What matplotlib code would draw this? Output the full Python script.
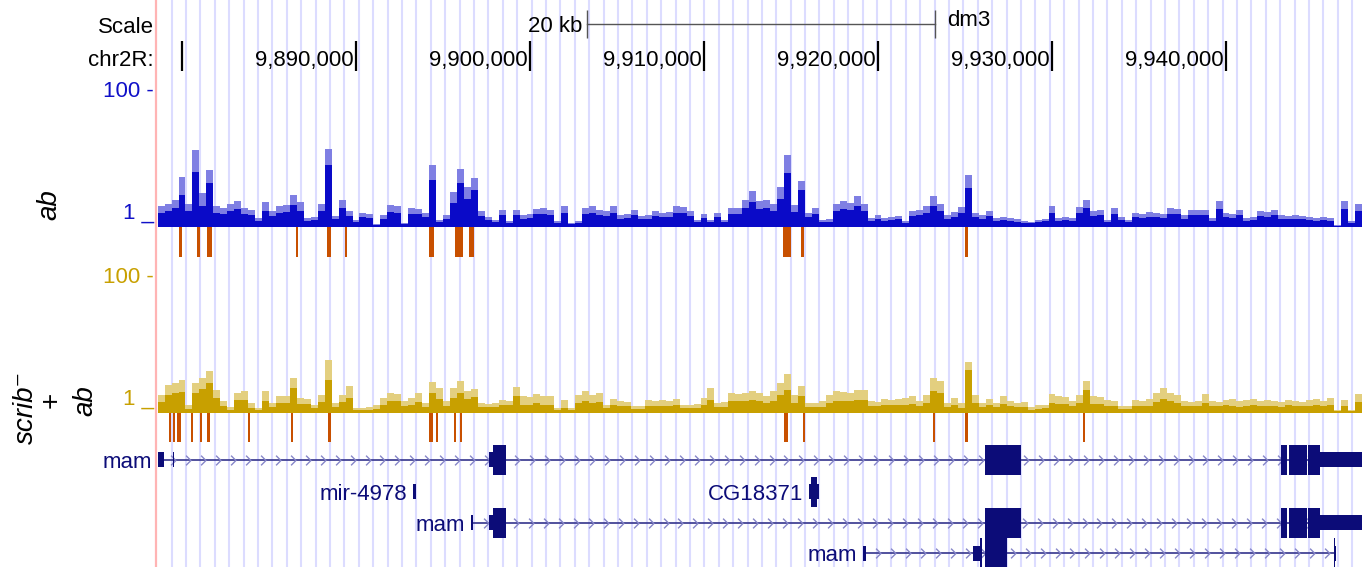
import numpy as np
import matplotlib.pyplot as plt
from matplotlib.path import Path

plt.rcParams['font.family'] = ['Liberation Sans', 'DejaVu Sans']

# ---------------- data (dm3, chr2R) ----------------
view = (9878563, 9947816)
bin_start = 9878600
bin_size = 400

# signal per 400 bp bin: max (light) and mean (dark), viewing range 1..100
ab_max = [2.0, 2.2, 2.5, 5.4, 2.2, 13.3, 3.1, 6.8, 2.0, 1.9,
          2.2, 2.4, 1.9, 1.8, 1.35, 2.3, 1.7, 2.0, 2.1, 2.9,
          2.3, 1.35, 1.4, 2.2, 13.8, 1.45, 2.5, 1.7, 1.27, 1.6,
          1.55, 1.1, 1.5, 2.1, 2.0, 1.14, 1.9, 1.85, 1.6, 8.0,
          1.27, 1.5, 3.2, 7.0, 3.8, 5.2, 1.7, 1.4, 1.27, 1.8,
          1.22, 1.8, 1.5, 1.55, 1.83, 1.9, 1.8, 1.22, 2.0, 1.14,
          1.22, 1.9, 2.0, 1.8, 1.7, 2.0, 1.5, 1.55, 1.8, 1.45,
          1.5, 1.7, 1.6, 1.65, 2.0, 1.96, 1.7, 1.27, 1.55, 1.27,
          1.6, 1.27, 1.9, 1.9, 2.5, 3.4, 2.4, 2.45, 2.2, 3.8,
          11.2, 2.1, 4.7, 1.6, 1.9, 1.27, 1.3, 2.2, 2.4, 2.25,
          2.8, 2.2, 1.35, 1.5, 1.35, 1.4, 1.45, 1.22, 1.7, 1.75,
          2.0, 2.8, 2.2, 1.5, 1.66, 1.96, 5.7, 1.6, 1.5, 1.7,
          1.35, 1.4, 1.35, 1.3, 1.22, 1.2, 1.25, 1.31, 2.0, 1.35,
          1.4, 1.35, 1.96, 2.5, 1.7, 1.75, 1.27, 1.9, 1.4, 1.27,
          1.6, 1.55, 1.65, 1.6, 1.55, 1.9, 1.85, 1.5, 1.8, 1.75,
          1.8, 1.35, 2.4, 1.6, 1.55, 1.8, 1.35, 1.4, 1.7, 1.65,
          1.75, 1.5, 1.45, 1.5, 1.45, 1.4, 1.35, 1.4, 1.35, 1.07,
          2.4, 1.22, 2.2]
ab_mean = [1.62, 1.74, 1.9, 2.9, 1.74, 6.3, 2.0, 4.4, 1.62, 1.57,
           1.74, 1.85, 1.57, 1.5, 1.23, 1.7, 1.45, 1.62, 1.68, 2.1,
           1.7, 1.23, 1.27, 1.74, 8.0, 1.3, 1.9, 1.45, 1.18, 1.39,
           1.36, 1.07, 1.33, 1.68, 1.62, 1.1, 1.57, 1.54, 1.39, 4.9,
           1.18, 1.33, 2.25, 4.4, 2.55, 3.5, 1.45, 1.27, 1.18, 1.5,
           1.15, 1.5, 1.33, 1.36, 1.53, 1.57, 1.5, 1.15, 1.62, 1.1,
           1.15, 1.57, 1.62, 1.5, 1.45, 1.62, 1.33, 1.36, 1.5, 1.3,
           1.33, 1.45, 1.39, 1.42, 1.62, 1.6, 1.45, 1.18, 1.36, 1.18,
           1.39, 1.18, 1.57, 1.57, 1.9, 2.35, 1.85, 1.87, 1.74, 2.55,
           6.1, 1.68, 3.5, 1.39, 1.57, 1.18, 1.2, 1.74, 1.85, 1.76,
           2.05, 1.74, 1.23, 1.33, 1.23, 1.27, 1.3, 1.15, 1.45, 1.48,
           1.62, 2.05, 1.74, 1.33, 1.42, 1.6, 3.7, 1.39, 1.33, 1.45,
           1.23, 1.27, 1.23, 1.2, 1.15, 1.14, 1.17, 1.21, 1.62, 1.23,
           1.27, 1.23, 1.6, 1.9, 1.45, 1.48, 1.18, 1.57, 1.27, 1.18,
           1.39, 1.36, 1.42, 1.39, 1.36, 1.57, 1.54, 1.33, 1.5, 1.48,
           1.5, 1.23, 1.85, 1.39, 1.36, 1.5, 1.23, 1.27, 1.45, 1.42,
           1.48, 1.33, 1.3, 1.33, 1.3, 1.27, 1.23, 1.27, 1.23, 1.05,
           1.85, 1.15, 1.74]
scrib_max = [1.83, 2.56, 2.74, 3.03, 1.31, 2.74, 3.24, 4.1, 2.17, 1.5,
             1.22, 1.96, 2.1, 1.4, 1.18, 2.1, 1.4, 1.77, 1.8, 3.24,
             1.66, 1.6, 1.31, 1.83, 5.95, 1.4, 1.83, 2.48, 1.18, 1.2,
             1.22, 1.31, 1.66, 1.96, 1.9, 1.5, 1.66, 1.96, 1.4, 2.83,
             2.32, 1.5, 2.32, 2.93, 2.1, 2.24, 1.4, 1.35, 1.4, 1.55,
             1.5, 2.4, 1.77, 1.7, 1.89, 1.77, 1.8, 1.18, 1.55, 1.18,
             1.83, 2.1, 1.83, 1.96, 1.31, 1.6, 1.5, 1.45, 1.27, 1.25,
             1.55, 1.5, 1.55, 1.5, 1.6, 1.31, 1.3, 1.35, 1.66, 2.32,
             1.4, 1.45, 1.96, 1.9, 1.96, 2.1, 1.96, 1.77, 2.1, 2.74,
             3.71, 1.83, 2.48, 1.4, 1.4, 1.5, 1.83, 2.1, 2.05, 1.96,
             2.17, 2.2, 1.5, 1.45, 1.6, 1.55, 1.6, 1.66, 1.77, 1.5,
             1.83, 3.24, 2.93, 1.4, 1.66, 1.4, 5.55, 1.83, 1.4, 1.6,
             1.4, 1.77, 1.5, 1.4, 1.45, 1.22, 1.31, 1.3, 1.89, 1.77,
             1.7, 1.5, 1.83, 2.93, 1.77, 1.72, 1.55, 1.5, 1.27, 1.25,
             1.55, 1.5, 1.6, 1.96, 2.32, 1.96, 1.83, 1.5, 1.45, 1.5,
             1.89, 1.5, 1.45, 1.55, 1.6, 1.5, 1.55, 1.6, 1.5, 1.55,
             1.5, 1.45, 1.55, 1.5, 1.45, 1.55, 1.6, 1.5, 1.66, 1.1,
             1.55, 1.1, 1.89]
scrib_mean = [1.45, 1.83, 1.96, 2.03, 1.14, 1.96, 2.24, 2.74, 1.66, 1.27,
              1.1, 1.55, 1.55, 1.18, 1.1, 1.5, 1.22, 1.4, 1.4, 2.32,
              1.35, 1.35, 1.18, 1.45, 3.03, 1.22, 1.45, 1.66, 1.1, 1.1,
              1.1, 1.14, 1.31, 1.5, 1.5, 1.27, 1.31, 1.45, 1.22, 1.96,
              1.6, 1.27, 1.66, 1.96, 1.6, 1.71, 1.22, 1.22, 1.22, 1.31,
              1.31, 1.77, 1.31, 1.31, 1.4, 1.31, 1.31, 1.1, 1.18, 1.1,
              1.4, 1.5, 1.4, 1.45, 1.18, 1.31, 1.27, 1.27, 1.14, 1.14,
              1.27, 1.27, 1.27, 1.27, 1.31, 1.18, 1.18, 1.18, 1.31, 1.55,
              1.22, 1.22, 1.5, 1.5, 1.5, 1.55, 1.5, 1.4, 1.5, 1.83,
              2.17, 1.4, 1.77, 1.22, 1.22, 1.22, 1.4, 1.5, 1.5, 1.5,
              1.55, 1.55, 1.27, 1.27, 1.31, 1.31, 1.31, 1.31, 1.35, 1.27,
              1.4, 2.1, 1.96, 1.22, 1.31, 1.18, 4.24, 1.4, 1.22, 1.31,
              1.22, 1.35, 1.27, 1.22, 1.22, 1.1, 1.14, 1.18, 1.4, 1.35,
              1.35, 1.27, 1.4, 2.17, 1.35, 1.35, 1.27, 1.27, 1.14, 1.14,
              1.27, 1.27, 1.27, 1.45, 1.6, 1.5, 1.4, 1.27, 1.27, 1.27,
              1.4, 1.27, 1.25, 1.29, 1.27, 1.24, 1.28, 1.3, 1.25, 1.27,
              1.26, 1.24, 1.29, 1.27, 1.25, 1.28, 1.3, 1.26, 1.31, 1.07,
              1.27, 1.07, 1.45]

# peak calls (start, end)
ab_peaks = [(9879830, 9880000), (9880860, 9881035), (9881440, 9881725),
            (9886550, 9886670), (9888335, 9888565), (9889370, 9889485),
            (9894195, 9894485), (9895690, 9896150), (9896495, 9896780),
            (9914540, 9915000), (9915575, 9915745), (9925000, 9925170)]
scrib_peaks = [(9879255, 9879370), (9879485, 9879600), (9879715, 9879945),
               (9880520, 9880630), (9881035, 9881150), (9881440, 9881610),
               (9883795, 9883910), (9886265, 9886380), (9888390, 9888565),
               (9894195, 9894425), (9894600, 9894715), (9895630, 9895745),
               (9895975, 9896090), (9914600, 9914830), (9915690, 9915805),
               (9923160, 9923275), (9925000, 9925170), (9931780, 9931895)]

ruler_ticks = [9880000, 9890000, 9900000, 9910000, 9920000, 9930000, 9940000]
scale_start = 9903280
scale_len = 20000

# gene models
gene_names = ['mam', 'mir-4978', 'CG18371', 'mam', 'mam']
gene_rows = [0, 1, 1, 2, 3]
gene_spans = [(9878621, 9948500), (9893276, 9893448), (9916034, 9916609),
              (9896609, 9948500), (9919137, 9946330)]
gene_utr = [[(9878621, 9878966), (9879470, 9879545), (9897644, 9897873), (9945401, 9948500)],
            [(9893276, 9893448)],
            [(9916034, 9916609)],
            [(9896609, 9896724), (9897644, 9897873), (9945401, 9948500)],
            [(9919137, 9919310), (9925460, 9925862), (9946290, 9946330)]]
gene_cds = [[(9897873, 9898621), (9926149, 9928218), (9943160, 9943505),
             (9943620, 9944654), (9944711, 9945401)],
            [],
            [(9916149, 9916494)],
            [(9897873, 9898621), (9926149, 9928218), (9943160, 9943505),
             (9943620, 9944654), (9944711, 9945401)],
            [(9925880, 9925960), (9926149, 9927414), (9946207, 9946290)]]

# ---------------- layout ----------------
W, H = 1371, 567
LEFT, RIGHT = 157, 1362
fig = plt.figure(figsize=(W / 100, H / 100), dpi=100)


def box(top, bottom):
    return [LEFT / W, 1 - bottom / H, (RIGHT - LEFT) / W, (bottom - top) / H]


def ftext(x, y, s, **kw):
    fig.text(x / W, 1 - y / H, s, **kw)


ax = fig.add_axes(box(0, H))
ax.set_xlim(view)
ax.set_ylim(H, 0)
ax.axis('off')

# guidelines
ax.vlines(np.arange(9879408, view[1], 827.3), 0, H, color='#dcdcff', lw=1.5, zorder=0)
fig.add_artist(plt.Line2D([155.6 / W] * 2, [0, 1], color='#ffb4b4', lw=1.6))

# header: scale bar and ruler
bar_col = '#555555'
ax.plot([scale_start, scale_start + scale_len], [24, 24], color=bar_col, lw=1)
ax.vlines([scale_start, scale_start + scale_len], 10, 38, color=bar_col, lw=1)
ax.annotate('20 kb', xy=(scale_start, 32.5), xytext=(-5, 0), textcoords='offset pixels',
            ha='right', va='baseline', fontsize=16)
ax.annotate('dm3', xy=(scale_start + scale_len, 26.5), xytext=(12, 0), textcoords='offset pixels',
            ha='left', va='baseline', fontsize=16)
ax.vlines(ruler_ticks, 41, 71, color='black', lw=1.6)
for t in ruler_ticks[1:]:
    ax.annotate(f'{t:,}', xy=(t, 66), xytext=(-2, 0), textcoords='offset pixels',
                ha='right', va='baseline', fontsize=16)
ftext(154, 33, 'Scale', ha='right', va='baseline', fontsize=16)
ftext(154, 66, 'chr2R:', ha='right', va='baseline', fontsize=16)

# signal tracks
edges = bin_start + bin_size * np.arange(len(ab_max) + 1)
tracks = [(ab_max, ab_mean, 90, 227, '#7f7fe3', '#0a0ac8', '#1010c8'),
          (scrib_max, scrib_mean, 276, 413, '#e3cf7f', '#c8a000', '#c8a000')]
for vmax, vmean, top, bottom, light, dark, tcol in tracks:
    tax = fig.add_axes(box(top, bottom))
    tax.set_yscale('log')
    tax.set_ylim(1, 100)
    tax.set_xlim(view)
    tax.axis('off')
    tax.patch.set_alpha(0)
    tax.stairs(vmax, edges, baseline=1, fill=True, color=light, lw=0)
    tax.stairs(vmean, edges, baseline=1, fill=True, color=dark, lw=0)
    ftext(154, top + 7, '100 -', ha='right', va='baseline', fontsize=16, color=tcol)
    ftext(154, bottom - 8, '1 _', ha='right', va='baseline', fontsize=16, color=tcol)

ftext(49, 205, 'ab', ha='center', va='center', rotation=90, fontsize=20, style='italic')
ftext(26, 407, 'scrib\u207b', ha='center', va='center', rotation=90, fontsize=20, style='italic')
ftext(52, 400, '+', ha='center', va='center', rotation=90, fontsize=20)
ftext(85, 401, 'ab', ha='center', va='center', rotation=90, fontsize=20, style='italic')

# peak calls
pk = '#c85000'
ax.broken_barh([(s, e - s) for s, e in ab_peaks], (227, 30), color=pk, lw=0)
ax.broken_barh([(s, e - s) for s, e in scrib_peaks], (413, 29), color=pk, lw=0)

# genes
navy = '#0c0c78'
row_y = [459.5, 491.5, 522.5, 553]
chev = Path([(-0.5, 1), (0.5, 0), (-0.5, -1)], [Path.MOVETO, Path.LINETO, Path.LINETO])
label_base = [8, 8.5, 8.5, 8]
for name, row, (s, e), utr, cds in zip(gene_names, gene_rows, gene_spans, gene_utr, gene_cds):
    y = row_y[row]
    if e - s > 2000:
        ax.hlines(y, s, e, color='#34348c', lw=1.2, zorder=2)
        cx = np.arange(s + 860, e - 200, 860)
        ax.plot(cx, [y] * len(cx), ls='none', marker=chev, ms=7, mfc='none',
                mec='#8686c8', mew=1.0, zorder=2)
    ax.broken_barh([(a, b - a) for a, b in utr], (y - 7.5, 15), color=navy, lw=0, zorder=3)
    ax.broken_barh([(a, b - a) for a, b in cds], (y - 15, 30), color=navy, lw=0, zorder=3)
    ax.annotate(name, xy=(s, y + label_base[row]), xytext=(-6, 0), textcoords='offset pixels',
                ha='right', va='baseline', fontsize=16, color=navy, annotation_clip=False)

fig.savefig('out.png', dpi=100)
